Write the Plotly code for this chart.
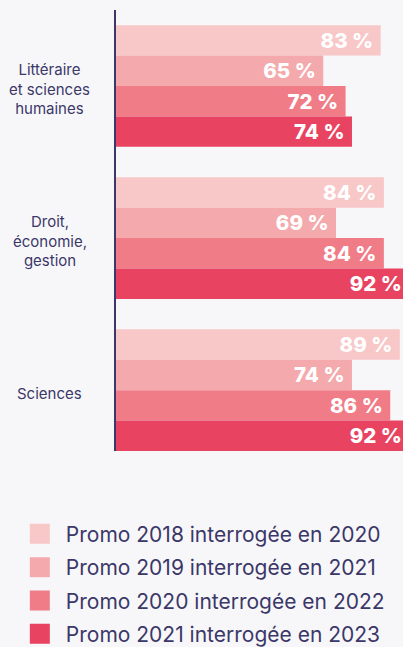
import plotly.graph_objects as go

categories = ["Littéraire<br>et sciences<br>humaines", "Droit,<br>économie,<br>gestion", "Sciences"]
series_names = [
    "Promo 2018 interrogée en 2020",
    "Promo 2019 interrogée en 2021",
    "Promo 2020 interrogée en 2022",
    "Promo 2021 interrogée en 2023",
]
promo_2018 = [83, 84, 89]
promo_2019 = [65, 69, 74]
promo_2020 = [72, 84, 86]
promo_2021 = [74, 92, 92]
series_values = [promo_2018, promo_2019, promo_2020, promo_2021]
colors = ["#f8c7c8", "#f4aaad", "#ef7c86", "#e84361"]

BG = "#f7f7fa"
NAVY = "#3b3868"
FONT = "Inter"

fig = go.Figure()
for name, vals, col in zip(series_names, series_values, colors):
    fig.add_trace(go.Bar(
        y=categories, x=vals, orientation="h", name=name,
        marker=dict(color=col, line=dict(width=0)),
        texttemplate="%{x} %\u00a0", textposition="inside", insidetextanchor="end",
        insidetextfont=dict(family=FONT, size=21, color="white", weight=800),
        showlegend=False, hoverinfo="skip",
    ))
# legend entries
for i, (name, col) in enumerate(zip(series_names, colors)):
    fig.add_trace(go.Scatter(
        x=[None], y=[None], mode="markers", name=name, legendgroup=f"g{i}",
        marker=dict(symbol="square", size=16, color=col, line=dict(color=col, width=4)),
        showlegend=True,
    ))

for cat in categories:
    fig.add_annotation(
        x=-0.23, xref="paper", y=cat, yref="y", text=cat, showarrow=False,
        xanchor="center", yanchor="middle", align="center", yshift=-3,
        font=dict(family=FONT, size=15, color=NAVY),
    )

fig.update_layout(
    width=403, height=647,
    margin=dict(l=116, r=0, t=10, b=196, autoexpand=False),
    paper_bgcolor=BG, plot_bgcolor=BG,
    barmode="group", bargap=0.2, bargroupgap=0,
    xaxis=dict(range=[0, 90], visible=False, fixedrange=True),
    yaxis=dict(type="category", categoryarray=categories, range=[2.4, -0.5],
               showline=True, linecolor=NAVY, linewidth=1.5, showticklabels=False,
               showgrid=False, zeroline=False, ticks="", fixedrange=True),
    legend=dict(x=-0.356, y=0.206, xanchor="left", yanchor="top", yref="container",
                font=dict(family=FONT, size=21, color=NAVY), itemwidth=42,
                bgcolor="rgba(0,0,0,0)", traceorder="grouped", tracegroupgap=3),
    showlegend=True,
)

fig.write_html("out.html", config={"displayModeBar": False},
               post_script="document.body.style.margin='0';document.body.style.overflow='hidden';")
